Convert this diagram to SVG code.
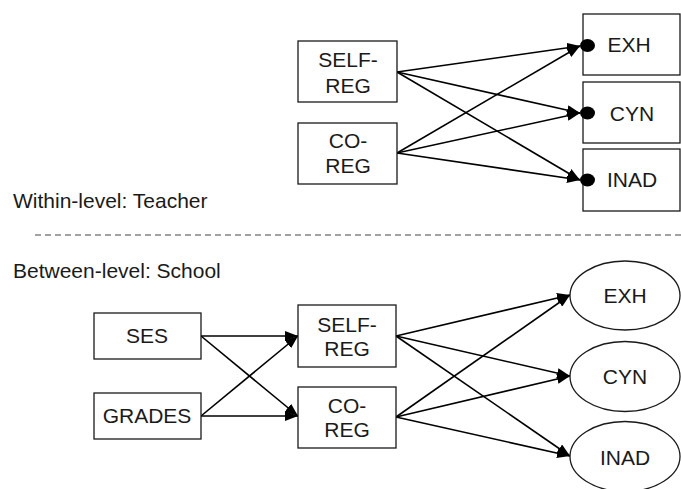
<svg xmlns="http://www.w3.org/2000/svg" width="681" height="489" viewBox="0 0 681 489">
<defs>
<style>
.box{fill:#fff;stroke:#1a1a1a;stroke-width:1.3}
.lbl{font-family:"Liberation Sans",Arial,sans-serif;font-size:21px;fill:#1a1a1a;text-anchor:middle}
.cap{font-family:"Liberation Sans",Arial,sans-serif;font-size:21px;fill:#1a1a1a}
.ln{stroke:#000;stroke-width:1.6;fill:none;marker-end:url(#ah)}
.dot{fill:#000}
</style>
<marker id="ah" markerUnits="userSpaceOnUse" markerWidth="13" markerHeight="10" refX="13" refY="5" orient="auto">
<path d="M0,0 L13,5 L0,10 z" fill="#000"/>
</marker>
</defs>
<rect width="681" height="489" fill="#fff"/>

<g id="connectors">
<line class="ln" x1="397" y1="72" x2="580" y2="46"/>
<line class="ln" x1="397" y1="72" x2="580" y2="113"/>
<line class="ln" x1="397" y1="72" x2="580" y2="180"/>
<line class="ln" x1="397" y1="153" x2="580" y2="46"/>
<line class="ln" x1="397" y1="153" x2="580" y2="113"/>
<line class="ln" x1="397" y1="153" x2="580" y2="180"/>
<line class="ln" x1="201" y1="336" x2="298" y2="336"/>
<line class="ln" x1="201" y1="336" x2="298" y2="416"/>
<line class="ln" x1="201" y1="416" x2="298" y2="336"/>
<line class="ln" x1="201" y1="416" x2="298" y2="416"/>
<line class="ln" x1="396" y1="336" x2="570" y2="295"/>
<line class="ln" x1="396" y1="336" x2="570" y2="376"/>
<line class="ln" x1="396" y1="336" x2="570" y2="456"/>
<line class="ln" x1="396" y1="417" x2="570" y2="295"/>
<line class="ln" x1="396" y1="417" x2="570" y2="376"/>
<line class="ln" x1="396" y1="417" x2="570" y2="456"/>
</g>

<g id="w-selfreg">
<rect class="box" x="298" y="41" width="99" height="61"/>
<text class="lbl" x="348" y="67">SELF-</text>
<text class="lbl" x="348" y="93">REG</text>
</g>
<g id="w-coreg">
<rect class="box" x="298" y="123" width="99" height="61"/>
<text class="lbl" x="348" y="148">CO-</text>
<text class="lbl" x="348" y="173">REG</text>
</g>
<g id="w-exh">
<rect class="box" x="583" y="14" width="97" height="61"/>
<ellipse class="dot" cx="587.5" cy="45.5" rx="7.5" ry="6.5"/>
<text class="lbl" x="629" y="52">EXH</text>
</g>
<g id="w-cyn">
<rect class="box" x="583" y="82" width="97" height="61"/>
<ellipse class="dot" cx="587.5" cy="113" rx="7.5" ry="6.5"/>
<text class="lbl" x="632" y="120.5">CYN</text>
</g>
<g id="w-inad">
<rect class="box" x="583" y="149" width="97" height="62"/>
<ellipse class="dot" cx="587.5" cy="180" rx="7.5" ry="6.5"/>
<text class="lbl" x="632" y="187">INAD</text>
</g>

<g id="labels">
<text class="cap" x="13" y="207.5">Within-level: Teacher</text>
<line x1="35" y1="235" x2="681" y2="235" stroke="#444" stroke-width="1" stroke-dasharray="6,4"/>
<text class="cap" x="13" y="278">Between-level: School</text>
</g>

<g id="b-ses">
<rect class="box" x="94" y="313" width="107" height="46"/>
<text class="lbl" x="147" y="343">SES</text>
</g>
<g id="b-grades">
<rect class="box" x="94" y="393" width="107" height="46"/>
<text class="lbl" x="147" y="423">GRADES</text>
</g>
<g id="b-selfreg">
<rect class="box" x="298" y="305" width="98" height="62"/>
<text class="lbl" x="347" y="332">SELF-</text>
<text class="lbl" x="347" y="356">REG</text>
</g>
<g id="b-coreg">
<rect class="box" x="298" y="387" width="98" height="61"/>
<text class="lbl" x="347" y="413">CO-</text>
<text class="lbl" x="347" y="437">REG</text>
</g>
<g id="b-exh">
<ellipse class="box" cx="625" cy="295.5" rx="55" ry="34.5"/>
<text class="lbl" x="625" y="303">EXH</text>
</g>
<g id="b-cyn">
<ellipse class="box" cx="625" cy="376.5" rx="55" ry="35"/>
<text class="lbl" x="625" y="383.5">CYN</text>
</g>
<g id="b-inad">
<ellipse class="box" cx="625" cy="456.5" rx="55" ry="35"/>
<text class="lbl" x="625" y="465">INAD</text>
</g>
</svg>
